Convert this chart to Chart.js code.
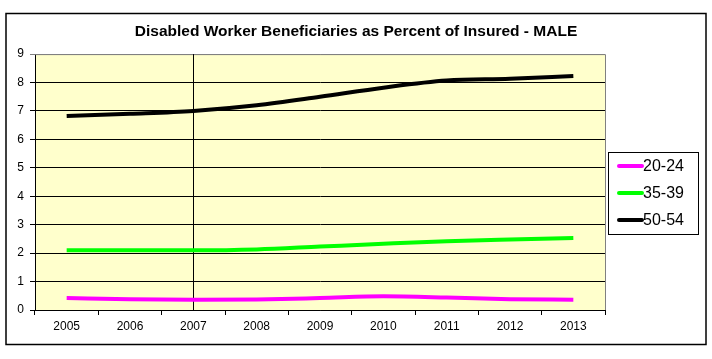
<!DOCTYPE html>
<html>
<head>
<meta charset="utf-8">
<script src="https://cdn.jsdelivr.net/npm/chart.js@4/dist/chart.umd.min.js"></script>
<style>
  html, body { margin: 0; padding: 0; background: #fff; }
  #wrap { width: 712px; height: 359px; position: relative; }
</style>
</head>
<body>
<div id="wrap"><canvas id="chart" width="712" height="359"></canvas></div>
<script>
// -------------------------
// Data
// -------------------------
const YEARS = ["2005","2006","2007","2008","2009","2010","2011","2012","2013"];
const age2024 = [0.42, 0.38, 0.36, 0.37, 0.42, 0.48, 0.44, 0.38, 0.36];
const age3539 = [2.10, 2.10, 2.10, 2.13, 2.23, 2.33, 2.42, 2.48, 2.53];
const age5054 = [6.82, 6.90, 7.00, 7.20, 7.50, 7.82, 8.07, 8.13, 8.23];
const SERIES_NAMES = ["20-24", "35-39", "50-54"];
const SERIES_COLORS = ["#FF00FF", "#00FF00", "#000000"];
const MARKER_YEAR = "2007";

const FONT = "Arial, 'Liberation Sans', sans-serif";

// -------------------------
// Plugins
// -------------------------
const frame = {
  id: "frame",
  beforeDraw(chart) {
    const { ctx, chartArea: a } = chart;
    ctx.save();
    ctx.fillStyle = "#fff";
    ctx.fillRect(0, 0, chart.width, chart.height);
    ctx.fillStyle = "#FFFFCC";
    ctx.fillRect(a.left, a.top, a.right - a.left, a.bottom - a.top);
    ctx.strokeStyle = "#000";
    ctx.lineWidth = 1.5;
    ctx.strokeRect(6, 13.5, 700, 331);
    ctx.restore();
  },
  beforeDatasetsDraw(chart) {
    const { ctx, chartArea: a, scales } = chart;
    ctx.save();
    // plot border, top and right
    ctx.strokeStyle = "#808080";
    ctx.lineWidth = 1;
    ctx.beginPath();
    ctx.moveTo(a.left, a.top + 0.5);
    ctx.lineTo(a.right + 0.5, a.top + 0.5);
    ctx.lineTo(a.right + 0.5, a.bottom);
    ctx.stroke();
    // vertical marker line
    const x = Math.round(scales.x.getPixelForValue(YEARS.indexOf(MARKER_YEAR))) + 0.5;
    ctx.strokeStyle = "#000";
    ctx.beginPath();
    ctx.moveTo(x, a.top);
    ctx.lineTo(x, a.bottom);
    ctx.stroke();
    ctx.restore();
  },
  afterDraw(chart) {
    // legend box
    const { ctx } = chart;
    const box = { x: 608.5, y: 152.5, w: 90, h: 82 };
    ctx.save();
    ctx.fillStyle = "#fff";
    ctx.fillRect(box.x, box.y, box.w, box.h);
    ctx.strokeStyle = "#000";
    ctx.lineWidth = 1;
    ctx.strokeRect(box.x, box.y, box.w, box.h);
    ctx.font = "16px " + FONT;
    ctx.textBaseline = "middle";
    ctx.fillStyle = "#000";
    chart.data.datasets.forEach((ds, i) => {
      const y = 166 + i * 27;
      ctx.strokeStyle = ds.borderColor;
      ctx.lineWidth = 4;
      ctx.lineCap = "round";
      ctx.beginPath();
      ctx.moveTo(619, y);
      ctx.lineTo(642, y);
      ctx.stroke();
      ctx.fillText(ds.label, 643, y + 1);
    });
    ctx.restore();
  }
};

// -------------------------
// Chart
// -------------------------
const seriesData = [age2024, age3539, age5054];

new Chart(document.getElementById("chart"), {
  type: "line",
  data: {
    labels: YEARS,
    datasets: SERIES_NAMES.map((name, i) => ({
      label: name,
      data: seriesData[i],
      borderColor: SERIES_COLORS[i],
      backgroundColor: SERIES_COLORS[i],
      borderWidth: 4,
      pointRadius: 0,
      cubicInterpolationMode: "monotone",
      fill: false
    }))
  },
  options: {
    responsive: false,
    animation: false,
    layout: { padding: { left: 6, right: 6, top: 0, bottom: 19 } },
    plugins: {
      legend: { display: false },
      tooltip: { enabled: false },
      title: {
        display: true,
        text: "Disabled Worker Beneficiaries as Percent of Insured - MALE",
        color: "#000",
        font: { family: FONT, size: 15.5, weight: "bold" },
        padding: { top: 22.5, bottom: 13 }
      }
    },
    scales: {
      x: {
        offset: true,
        grid: { offset: true, drawOnChartArea: false, drawTicks: true, tickLength: 5, color: "#000" },
        border: { color: "#000" },
        ticks: {
          color: "#000",
          padding: 4,
          maxRotation: 0,
          font: { family: FONT, size: 12 }
        },
        afterFit(scale) { scale.height = 30; }
      },
      y: {
        min: 0,
        max: 9,
        grid: {
          color: ctx => (ctx.tick && ctx.tick.value === 9 ? "#808080" : "#000"),
          tickLength: 5
        },
        border: { color: "#000" },
        ticks: {
          stepSize: 1,
          color: "#000",
          padding: 6,
          font: { family: FONT, size: 12 }
        },
        afterFit(scale) { scale.width = 29; }
      },
      spacer: {
        type: "linear",
        position: "right",
        display: true,
        grid: { display: false },
        border: { display: false },
        ticks: { display: false },
        afterFit(scale) { scale.width = 101; }
      }
    }
  },
  plugins: [frame]
});
</script>
</body>
</html>
